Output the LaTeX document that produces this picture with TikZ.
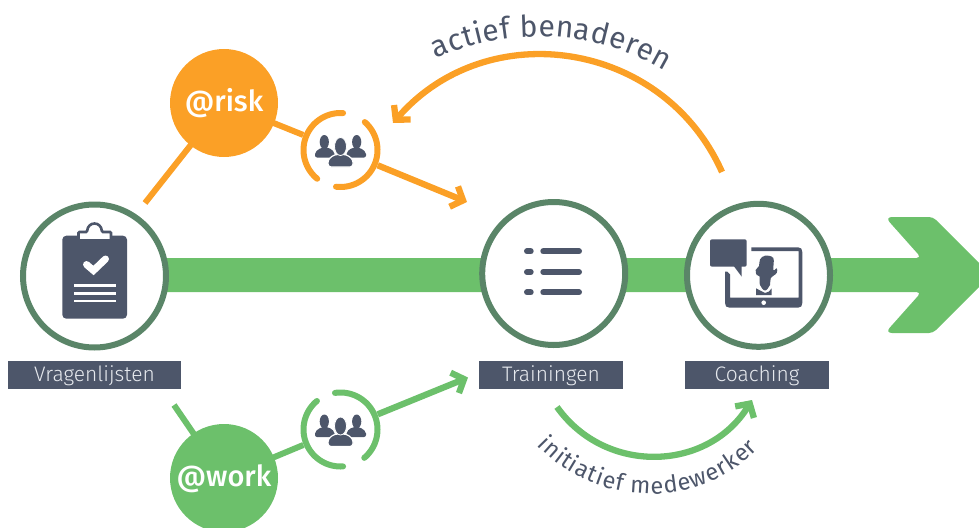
\documentclass[tikz,border=0pt]{standalone}
\usepackage{fontspec}
\setmainfont{Fira Sans}
\newfontfamily\lightfont{Fira Sans Light}
\newfontfamily\semifont{Fira Sans Medium}
\usetikzlibrary{arrows.meta,decorations.text}
\definecolor{orangeC}{HTML}{FBA026}
\definecolor{greenC}{HTML}{6CC06B}
\definecolor{ringC}{HTML}{5A8568}
\definecolor{slateC}{HTML}{4D566A}
\definecolor{capC}{HTML}{E6E9EE}
\newcommand{\ringarc}[5]{\draw[#1,line width=6pt,line cap=round] plot[domain=#4:#5,samples=40,smooth] ({#2+37*cos(\x)},{#3-37*sin(\x)});}
\newcommand{\groupicon}[2]{%
\begin{scope}[shift={(#1,#2)},fill=slateC]
\fill (-16.2,-8) ellipse [x radius=4.6,y radius=7];
\fill (16.2,-8) ellipse [x radius=4.6,y radius=7];
\fill[rounded corners=2pt] (-25.5,7.5) -- (-25.5,2) -- (-19,-2.5) -- (-12,-2.5) -- (-6,2) -- (-6,7.5) -- cycle;
\fill[rounded corners=2pt] (25.5,7.5) -- (25.5,2) -- (19,-2.5) -- (12,-2.5) -- (6,2) -- (6,7.5) -- cycle;
\draw[white,line width=1.2pt,fill=slateC,rounded corners=3pt] (-12.5,17) -- (-12.5,9.5) -- (-6,4.5) -- (6,4.5) -- (12.5,9.5) -- (12.5,17) -- cycle;
\draw[white,line width=0.8pt,fill=slateC] (0,-3.5) ellipse [x radius=6,y radius=9];
\end{scope}}
\tikzset{
 ringnode/.style={circle,draw=ringC,line width=6pt,fill=white,minimum size=143pt,inner sep=0pt},
 bignode/.style={circle,minimum size=108pt,inner sep=0pt,text=white,font=\semifont\fontsize{29}{29}\selectfont,text height=20pt,text depth=4pt},
 smallnode/.style={circle,minimum size=80pt,inner sep=0pt},
 capnode/.style={fill=slateC,text=capC,font=\lightfont\fontsize{21}{21}\selectfont,minimum height=28pt,inner sep=0pt,text height=16pt,text depth=4pt},
 link/.style={line width=6pt},
 tipped/.style={line width=6.3pt,-{Straight Barb[length=10pt,width=22pt,line width=6.3pt]}},
 iconline/.style={white,line width=2.6pt}
}
\begin{document}
\begin{tikzpicture}[x=1pt,y=-1pt]
\useasboundingbox (0,0) rectangle (979,527);
\clip (0,0) rectangle (979,527);
% main arrow
\fill[greenC] (150,258) [rounded corners=5pt] -- (921.5,258) [rounded corners=7pt] -- (885,217) [rounded corners=4pt] -- (933,217) [sharp corners] -- (991,275) [rounded corners=4pt] -- (933,333) [rounded corners=7pt] -- (885,333) [rounded corners=5pt] -- (921.5,292) [sharp corners] -- (150,292) -- cycle;
% nodes
\node[ringnode] (quest) at (94.5,276) {};
\node[ringnode] (train) at (553.7,273.5) {};
\node[ringnode] (coach) at (758.5,275.3) {};
\node[capnode,minimum width=173pt] (questcap) at (94.5,375) {Vragenlijsten};
\node[capnode,minimum width=144pt] (traincap) at (551,375) {Trainingen};
\node[capnode,minimum width=144pt] (coachcap) at (757,375) {Coaching};
\node[smallnode] (riskgroup) at (340.5,150) {};
\node[smallnode] (workgroup) at (340.5,429.5) {};
\coordinate (riskstart) at (145,203);
\coordinate (workstart) at (174,405);
\coordinate (riskend) at (467,202);
\coordinate (workend) at (468,377.5);
\coordinate (activeA) at (722,172);
\coordinate (activeB) at (393,123);
\coordinate (initA) at (557,407);
\coordinate (initB) at (752,400);
% connectors
\draw[orangeC,link] (riskstart) -- (224,103);
\draw[greenC,link] (workstart) -- (224,478);
\draw[orangeC,link] (224,103) -- (riskgroup);
\draw[greenC,link] (224,478) -- (workgroup);
\draw[orangeC,tipped] (riskgroup) -- (riskend);
\draw[greenC,tipped] (workgroup) -- (workend);
\draw[orangeC,tipped] (activeA) .. controls (663.4,40.3) and (487.5,14.2) .. (activeB);
\draw[greenC,tipped] (initA) .. controls (605.7,475.4) and (708,471.7) .. (initB);
% big circles
\node[bignode,fill=orangeC] (risk) at (224,103) {@risk};
\node[bignode,fill=greenC] (work) at (224,478) {@work};
% group rings
\ringarc{orangeC}{340.5}{150}{86}{231}
\ringarc{orangeC}{340.5}{150}{-97}{49}
\ringarc{greenC}{340.5}{429.5}{129.6}{274}
\ringarc{greenC}{340.5}{429.5}{-50}{98.6}
\groupicon{340.5}{150}
\groupicon{340.5}{429.5}
% curved texts
\path[decorate,decoration={text along path,text format delimiters={|}{|},text color=slateC,text align={fit to path},
 text={|\fontsize{30}{30}\selectfont|actief benaderen}}]
 (436,59) .. controls (510,25) and (596,30) .. (665,71);
\path[decorate,decoration={text along path,text format delimiters={|}{|},text color=slateC,text align={fit to path},
 text={|\fontsize{23.5}{23.5}\selectfont|initiatief medewerker}}]
 (537,445) .. controls (596,508) and (697,511) .. (758,449);
% clipboard icon
\fill[slateC,rounded corners=4pt] (62.3,235.7) rectangle (127,318.7);
\draw[slateC,line width=2.6pt,fill=white,rounded corners=1pt] (78.5,240.5) -- (78.5,232) -- (87,232) .. controls (88,221) and (101,221) .. (102,232) -- (111,232) -- (111,240.5) -- cycle;
\draw[white,line width=7pt,line cap=round] (86.5,264.5) -- (93.5,270.5) -- (105.5,259);
\draw[iconline] (74.3,285.7) -- (115.7,285.7);
\draw[iconline] (74.3,293.3) -- (115.7,293.3);
\draw[iconline] (74.3,301) -- (115.7,301);
% list icon
\foreach \yy in {251.3,272,292.3}{
 \draw[slateC,line width=6pt,line cap=round] (527,\yy) -- (530.7,\yy);
 \draw[slateC,line width=6pt,line cap=round] (543.3,\yy) -- (579,\yy);
}
% coaching icon
\fill[slateC,rounded corners=2pt] (710,239.3) rectangle (746.7,266.7);
\fill[slateC] (733,265) -- (741.7,276.7) -- (741.7,265) -- cycle;
\fill[slateC,even odd rule] (751.3,247.3) -- (798,247.3) .. controls (801,247.3) and (802.3,249) .. (802.3,252) -- (802.3,303) .. controls (802.3,306) and (801,307.7) .. (798,307.7) -- (729.5,307.7) .. controls (726.5,307.7) and (725,306) .. (725,303) -- (725,271.5) -- (727,271.5) -- (730,274.5) -- (730,297.7) -- (798.5,297.7) -- (798.5,251) -- (751.3,251) -- cycle;
\fill[white] (763.7,302.7) circle [radius=2.3];
\fill[slateC] plot[smooth cycle,tension=0.6] coordinates {(765,255.7) (760,259.5) (759,266) (755.7,270) (756.7,275) (759.5,276.5) (760,285) (765,290.5) (770,285) (770.7,278.3) (776.7,273) (776.7,268.3) (773.3,270) (773.3,258)};
\fill[slateC] (756,288.3) -- (762,291.5) -- (765,293) -- (769,291.5) -- (771.7,288.3) -- (771.7,295) -- (756,295) -- cycle;
\end{tikzpicture}
\end{document}
